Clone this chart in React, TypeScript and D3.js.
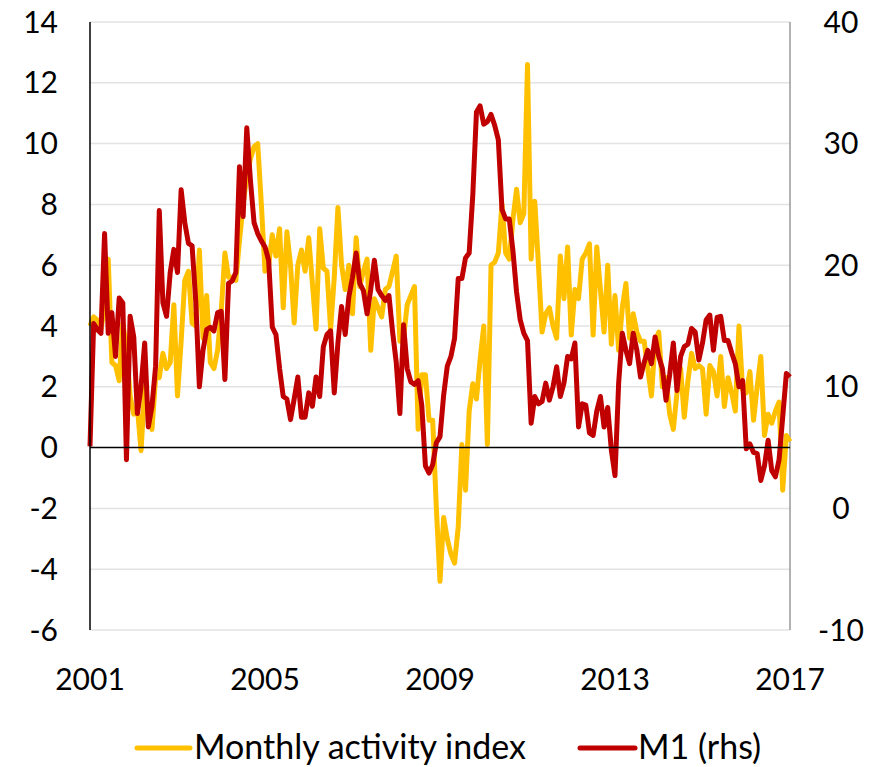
import * as d3 from "d3";

// monthly, Jan 2001 .. Jan 2017 (one row per year)
const activity = [
  4.0, 4.3, 4.2, 3.9, 4.6, 6.2, 2.8, 2.7, 2.2, 4.1, 3.3, 1.7,
  1.1, 1.3, -0.1, 2.0, 1.1, 0.6, 2.3, 2.3, 3.1, 2.6, 2.8, 4.7,
  1.7, 3.5, 5.5, 5.8, 4.1, 4.0, 6.5, 3.6, 5.0, 2.8, 2.6, 3.2,
  4.5, 6.4, 5.6, 5.6, 5.5, 6.8, 8.0, 8.9, 9.5, 9.9, 10.0, 8.0,
  5.8, 6.0, 7.0, 6.3, 7.2, 4.6, 7.1, 6.0, 4.1, 6.0, 6.5, 5.8,
  6.9, 5.4, 3.9, 7.2, 5.9, 5.8, 3.9, 5.6, 7.9, 6.0, 5.2, 6.0,
  4.4, 6.9, 5.3, 5.8, 6.2, 3.2, 4.9, 4.6, 4.3, 5.2, 5.3, 5.8,
  6.3, 3.5, 3.6, 4.7, 5.0, 5.3, 0.6, 2.4, 2.4, 0.9, 0.9, -2.0,
  -4.4, -2.3, -3.0, -3.5, -3.8, -2.6, 0.1, -1.4, 1.2, 2.1, 1.6, 2.9,
  4.0, 0.1, 6.0, 6.1, 6.4, 8.0, 6.4, 6.2, 7.5, 8.5, 7.4, 7.7,
  12.6, 6.2, 8.1, 6.0, 3.8, 4.4, 4.6, 4.0, 3.6, 6.3, 4.9, 6.6,
  3.7, 5.2, 4.9, 6.2, 6.4, 6.7, 3.7, 6.6, 5.2, 3.8, 6.0, 3.4,
  5.0, 3.2, 4.6, 5.4, 3.6, 4.4, 3.8, 3.5, 3.5, 2.6, 1.7, 3.5,
  3.8, 2.0, 2.3, 1.1, 0.6, 1.8, 2.6, 1.0, 2.2, 3.1, 2.6, 2.7,
  2.6, 1.1, 2.7, 2.5, 1.7, 3.0, 1.35, 2.3, 1.8, 1.2, 4.0, 1.9,
  1.8, 2.5, 0.9, 2.0, 3.0, 0.4, 1.1, 0.8, 1.2, 1.5, -1.4, 0.4,
  0.2,
];

const m1 = [
  5.1, 15.2, 14.7, 14.4, 22.6, 14.4, 16.1, 12.5, 17.3, 16.9, 4.0, 15.8,
  14.1, 7.8, 10.0, 13.6, 6.7, 8.4, 11.7, 24.5, 16.9, 15.8, 19.4, 21.3,
  19.4, 26.2, 23.5, 21.8, 21.6, 17.1, 10.0, 13.0, 14.7, 14.9, 14.6, 16.1,
  16.2, 10.6, 18.5, 18.7, 19.4, 28.1, 24.0, 31.3, 27.0, 23.5, 22.6, 22.0,
  21.5, 20.4, 14.9, 14.3, 11.5, 9.2, 9.0, 7.3, 9.0, 10.8, 7.5, 7.5,
  9.5, 8.4, 10.8, 9.2, 13.3, 14.3, 14.6, 9.5, 13.6, 16.6, 14.3, 17.4,
  19.0, 21.0, 18.5, 17.9, 16.0, 18.0, 20.4, 18.0, 17.5, 17.1, 17.5, 14.5,
  12.0, 7.8, 15.1, 11.5, 10.4, 10.2, 10.5, 8.5, 3.5, 2.9, 3.6, 5.4,
  5.9, 9.3, 11.7, 12.5, 14.0, 18.9, 18.9, 20.6, 21.0, 25.8, 32.6, 33.1,
  31.6, 31.8, 32.4, 31.5, 30.3, 24.6, 23.8, 23.8, 21.2, 17.8, 15.5, 14.4,
  13.8, 7.0, 9.2, 8.6, 8.8, 10.3, 8.9, 10.0, 11.65, 9.2, 10.3, 12.5,
  12.3, 13.6, 6.7, 8.6, 8.5, 6.2, 6.0, 8.0, 9.2, 6.7, 8.3, 4.8,
  2.7, 10.3, 14.4, 13.0, 11.9, 14.4, 13.0, 10.8, 12.0, 13.0, 11.9, 14.1,
  12.5, 11.5, 8.9, 11.0, 13.6, 9.7, 12.5, 13.3, 13.5, 14.8, 14.5, 12.2,
  13.6, 15.5, 15.9, 13.0, 15.7, 15.8, 13.8, 13.8, 12.8, 11.9, 10.0, 10.5,
  4.9, 5.3, 4.6, 4.5, 2.3, 3.5, 5.6, 3.1, 2.6, 4.0, 7.5, 11.1,
  10.8,
];

const yearLabels = ["2001", "2005", "2009", "2013", "2017"];
const leftTicks = [-6, -4, -2, 0, 2, 4, 6, 8, 10, 12, 14];
const rightTicks = [-10, 0, 10, 20, 30, 40];

const W = 894;
const H = 767;
const left = 90;
const right = 790;
const top = 22;
const bottom = 630;
const font = "Lato, 'Liberation Sans', sans-serif";

const x = d3.scaleLinear().domain([0, activity.length - 1]).range([left, right]);
const yL = d3.scaleLinear().domain([-6, 14]).range([bottom, top]);
const yR = d3.scaleLinear().domain([-10, 40]).range([bottom, top]);

const lineL = d3.line<number>().x((_, i) => x(i)).y((d) => yL(d));
const lineR = d3.line<number>().x((_, i) => x(i)).y((d) => yR(d));

export default function App() {
  return (
    <svg width={W} height={H} style={{ position: "absolute", left: 0, top: 0 }} fontFamily={font}>
      <rect width={W} height={H} fill="white" />
      {leftTicks.filter((t) => t !== 0).map((t) => (
        <line key={t} x1={left} x2={right} y1={yL(t)} y2={yL(t)} stroke="#e3e3e3" strokeWidth={1.5} />
      ))}
      <line x1={right} x2={right} y1={top} y2={bottom} stroke="#999" strokeWidth={1.5} />
      <path d={lineL(activity) ?? ""} fill="none" stroke="#FFC000" strokeWidth={5} strokeLinejoin="round" />
      <path d={lineR(m1) ?? ""} fill="none" stroke="#C00000" strokeWidth={5} strokeLinejoin="round" />
      <line x1={left} x2={right} y1={yL(0)} y2={yL(0)} stroke="black" strokeWidth={1.5} />
      <line x1={left} x2={left} y1={top} y2={bottom} stroke="black" strokeWidth={1.5} />
      {leftTicks.map((t) => (
        <text key={t} x={58} y={yL(t)} dy="0.35em" textAnchor="end" fontSize={30}>
          {t}
        </text>
      ))}
      {rightTicks.map((t) => (
        <text key={t} x={841} y={yR(t)} dy="0.35em" textAnchor="middle" fontSize={30}>
          {t}
        </text>
      ))}
      {yearLabels.map((l, i) => (
        <text key={l} x={x(i * 48)} y={690} textAnchor="middle" fontSize={30}>
          {l}
        </text>
      ))}
      <line x1={137} x2={190} y1={748} y2={748} stroke="#FFC000" strokeWidth={5} strokeLinecap="round" />
      <text x={194} y={759} fontSize={34}>Monthly activity index</text>
      <line x1={580} x2={635} y1={748} y2={748} stroke="#C00000" strokeWidth={5} strokeLinecap="round" />
      <text x={638} y={759} fontSize={34}>M1 (rhs)</text>
    </svg>
  );
}
